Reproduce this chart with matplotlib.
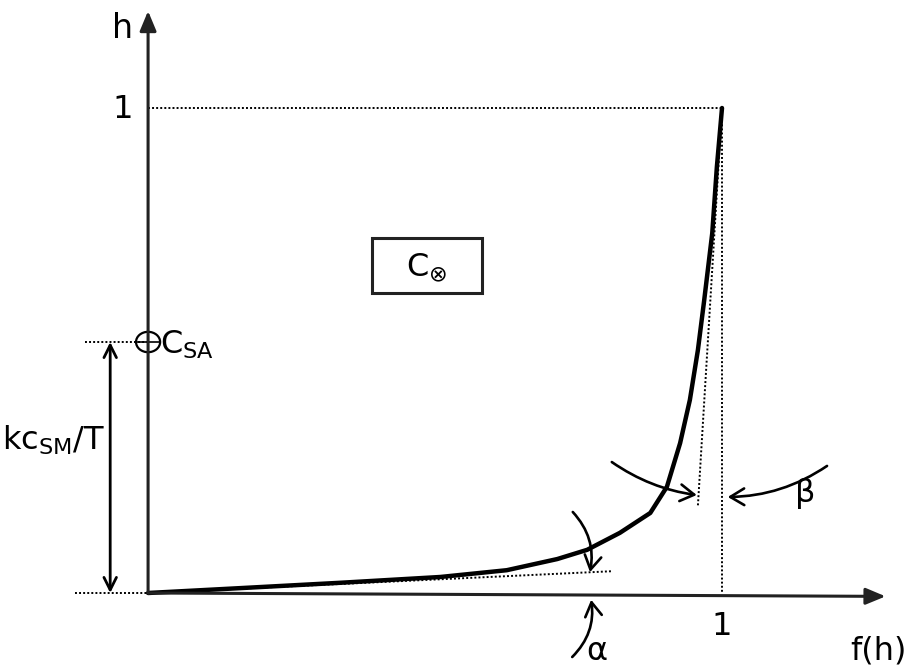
import numpy as np
import matplotlib.pyplot as plt
from matplotlib.patches import FancyArrowPatch, Rectangle, Circle

# curve h(f)
curve_f = [0.0, 0.160, 0.334, 0.509, 0.625, 0.713, 0.765, 0.822, 0.875, 0.904,
           0.927, 0.944, 0.958, 0.969, 0.983, 0.991, 1.0]
curve_h = [0.0, 0.010, 0.021, 0.033, 0.047, 0.070, 0.089, 0.124, 0.165, 0.219,
           0.309, 0.398, 0.501, 0.604, 0.742, 0.878, 1.0]

c_sa = 0.5175
tangent_low = [0.0, 0.810], [0.0, 0.045]
tangent_high = [1.0, 0.958], [1.0, 0.180]

fig = plt.figure(figsize=(9.16, 6.67), dpi=100)
ax = fig.add_axes([0, 0, 1, 1])
ax.set_xlim(-0.258, 1.338)
ax.set_ylim(-0.1526, 1.2227)
ax.axis('off')

fs = 23
dot = dict(color='black', lw=1.4, ls=(0, (1, 1.1)))

# axes with arrows
ax.annotate('', xy=(0, 1.20), xytext=(0, 0),
            arrowprops=dict(arrowstyle='-|>,head_length=1.2,head_width=0.5', lw=2.2, color='#222222',
                            shrinkA=0, shrinkB=0))
ax.annotate('', xy=(1.285, -0.007), xytext=(0, 0),
            arrowprops=dict(arrowstyle='-|>,head_length=1.2,head_width=0.5', lw=2.2, color='#222222',
                            shrinkA=0, shrinkB=0))

# dotted guides
ax.plot([0, 1], [1, 1], **dot)
ax.plot([1, 1], [1, 0], **dot)
ax.plot([-0.127, 0], [0, 0], **dot)
ax.plot([-0.110, 0], [c_sa, c_sa], **dot)
ax.plot(*tangent_low, **dot)
ax.plot(*tangent_high, **dot)

# main curve
ax.plot(curve_f, curve_h, color='black', lw=3.2, solid_capstyle='round', solid_joinstyle='round')

# c_SA marker
ax.add_patch(Circle((0, c_sa), 0.021, fill=False, lw=1.6, ec='black'))
ax.plot([-0.021, 0.021], [c_sa, c_sa], color='black', lw=1.2)

# double arrow kc_SM/T
ax.annotate('', xy=(-0.066, c_sa), xytext=(-0.066, 0),
            arrowprops=dict(arrowstyle='<->,head_length=0.9,head_width=0.45', lw=2, color='black',
                            shrinkA=0, shrinkB=0))

# box C⊗
ax.add_patch(Rectangle((0.390, 0.619), 0.192, 0.113, fill=False, lw=2.2, ec='#222222'))
ax.text(0.486, 0.672, 'C$_{\\otimes}$', fontsize=fs, ha='center', va='center')

# labels
ax.text(-0.045, 1.163, 'h', fontsize=fs + 1, ha='center', va='center')
ax.text(-0.045, 0.996, '1', fontsize=fs, ha='center', va='center')
ax.text(1.0, -0.070, '1', fontsize=fs, ha='center', va='center')
ax.text(1.272, -0.120, 'f(h)', fontsize=fs, ha='center', va='center')
ax.text(0.020, 0.512, 'C$_{\\mathregular{SA}}$', fontsize=fs, ha='left', va='center')
ax.text(-0.165, 0.315, 'kc$_{\\mathregular{SM}}$/T', fontsize=fs, ha='center', va='center')
ax.text(0.782, -0.120, 'α', fontsize=fs, ha='center', va='center')
ax.text(1.145, 0.205, 'β', fontsize=fs, ha='center', va='center')

# curved arrows for the angles
arrows = [
    ((0.740, 0.167), (0.770, 0.043), -0.25),
    ((0.739, -0.132), (0.772, -0.014), 0.25),
    ((0.808, 0.270), (0.956, 0.202), 0.12),
    ((1.183, 0.262), (1.010, 0.198), -0.15),
]
for start, end, rad in arrows:
    ax.add_patch(FancyArrowPatch(start, end, connectionstyle=f'arc3,rad={rad}',
                                 arrowstyle='->,head_length=10,head_width=6', lw=1.9,
                                 color='black', shrinkA=0, shrinkB=0))

fig.savefig('out.png', dpi=100)
